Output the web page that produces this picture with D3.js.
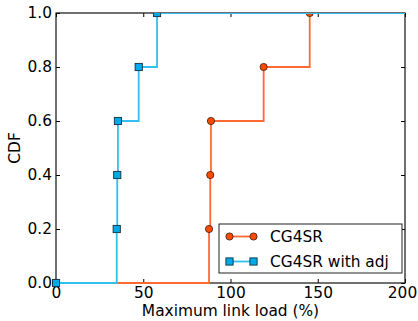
<!DOCTYPE html>
<html><head><meta charset="utf-8">
<script src="https://cdn.jsdelivr.net/npm/d3@7"></script>
<style>body{margin:0;background:#fff}svg text{font-family:'DejaVu Sans',sans-serif !important}</style>
</head><body><svg id="c" width="418" height="321"></svg>
<script>
const seriesNames = ["CG4SR", "CG4SR with adj"];
const cg4srX = [0, 87.7, 88.4, 88.8, 119, 145.4, 200];
const cg4srY = [0, 0.2, 0.4, 0.6, 0.8, 1.0, 1.0];
const adjX = [0, 34.8, 35.1, 35.5, 47.4, 57.9, 200];
const adjY = [0, 0.2, 0.4, 0.6, 0.8, 1.0, 1.0];
const xTicks = [0, 50, 100, 150, 200];
const yTicks = [0.0, 0.2, 0.4, 0.6, 0.8, 1.0];

const svg = d3.select("#c");
const L = 56, R = 405, T = 13, B = 283;
const x = d3.scaleLinear().domain([0, 200]).range([L, R]);
const y = d3.scaleLinear().domain([0, 1]).range([B, T]);

svg.append("defs").append("clipPath").attr("id","clip")
  .append("rect").attr("x",L-4).attr("y",T).attr("width",R-L+4).attr("height",B-T+4);

const fs = 15.4;
const gx = svg.append("g").attr("transform",`translate(0,${B})`)
  .call(d3.axisBottom(x).tickValues(xTicks).tickFormat(d3.format("d")).tickSizeInner(-4).tickSizeOuter(0).tickPadding(4));
const gxt = svg.append("g").attr("transform",`translate(0,${T})`)
  .call(d3.axisTop(x).tickValues(xTicks).tickFormat("").tickSizeInner(-4).tickSizeOuter(0));
const gy = svg.append("g").attr("transform",`translate(${L},0)`)
  .call(d3.axisLeft(y).tickValues(yTicks).tickFormat(d3.format(".1f")).tickSizeInner(-4).tickSizeOuter(0).tickPadding(4));
const gyr = svg.append("g").attr("transform",`translate(${R},0)`)
  .call(d3.axisRight(y).tickValues(yTicks).tickFormat("").tickSizeInner(-4).tickSizeOuter(0));
[gx,gxt,gy,gyr].forEach(g=>{
  g.attr("font-size",fs);
  g.select(".domain").remove();
  g.selectAll("line").attr("stroke","#000");
  g.selectAll("text").attr("fill","#000");
});
gx.selectAll("text").filter(d=>d===200).attr("dx",-3);
gy.selectAll("text").attr("dy","0.3em");
svg.append("rect").attr("x",L).attr("y",T).attr("width",R-L).attr("height",B-T)
  .attr("fill","none").attr("stroke","#111").attr("stroke-width",1.2);

const line = d3.line().x(d=>x(d[0])).y(d=>y(d[1])).curve(d3.curveStepAfter);
const plot = svg.append("g").attr("clip-path","url(#clip)");

const orangeLine = "#ff6a33", orangeFill = "#ff4a00";
const blueLine = "#33c0f0", blueFill = "#00aae8";

const cg = cg4srX.map((v,i)=>[v,cg4srY[i]]);
const ad = adjX.map((v,i)=>[v,adjY[i]]);

plot.append("path").datum(cg).attr("d",line).attr("fill","none").attr("stroke",orangeLine).attr("stroke-width",1.8);
plot.selectAll(".oc").data(cg.slice(0,-1)).enter().append("circle")
  .attr("cx",d=>x(d[0])).attr("cy",d=>y(d[1])).attr("r",3.6)
  .attr("fill",orangeFill).attr("stroke","#3a1a10").attr("stroke-width",0.8);

plot.append("path").datum(ad).attr("d",line).attr("fill","none").attr("stroke",blueLine).attr("stroke-width",1.8);
plot.selectAll(".bs").data(ad.slice(0,-1)).enter().append("rect")
  .attr("x",d=>x(d[0])-3.6).attr("y",d=>y(d[1])-3.6).attr("width",7.2).attr("height",7.2)
  .attr("fill",blueFill).attr("stroke","#12303a").attr("stroke-width",0.9);

svg.append("text").attr("x",(L+R)/2).attr("y",316).attr("text-anchor","middle")
  .attr("font-size",fs).text("Maximum link load (%)");
svg.append("text").attr("transform",`translate(20,${(T+B)/2}) rotate(-90)`).attr("text-anchor","middle")
  .attr("font-size",fs).text("CDF");

const lg = svg.append("g");
lg.append("rect").attr("x",219).attr("y",224).attr("width",183).attr("height",49)
  .attr("fill","#fff").attr("stroke","#222").attr("stroke-width",1);
const items = [
  {name: seriesNames[0], yy: 236.5, lc: orangeLine, fc: orangeFill, shape:"c"},
  {name: seriesNames[1], yy: 261.5, lc: blueLine, fc: blueFill, shape:"s"}
];
items.forEach(it=>{
  lg.append("line").attr("x1",229.5).attr("x2",253.5).attr("y1",it.yy).attr("y2",it.yy)
    .attr("stroke",it.lc).attr("stroke-width",1.8);
  [229.5,253.5].forEach(cx=>{
    if(it.shape==="c") lg.append("circle").attr("cx",cx).attr("cy",it.yy).attr("r",3.6)
      .attr("fill",it.fc).attr("stroke","#3a1a10").attr("stroke-width",0.8);
    else lg.append("rect").attr("x",cx-3.6).attr("y",it.yy-3.6).attr("width",7.2).attr("height",7.2)
      .attr("fill",it.fc).attr("stroke","#12303a").attr("stroke-width",0.9);
  });
  lg.append("text").attr("x",270).attr("y",it.yy+5.5).attr("font-size",fs).text(it.name);
});
</script></body></html>
